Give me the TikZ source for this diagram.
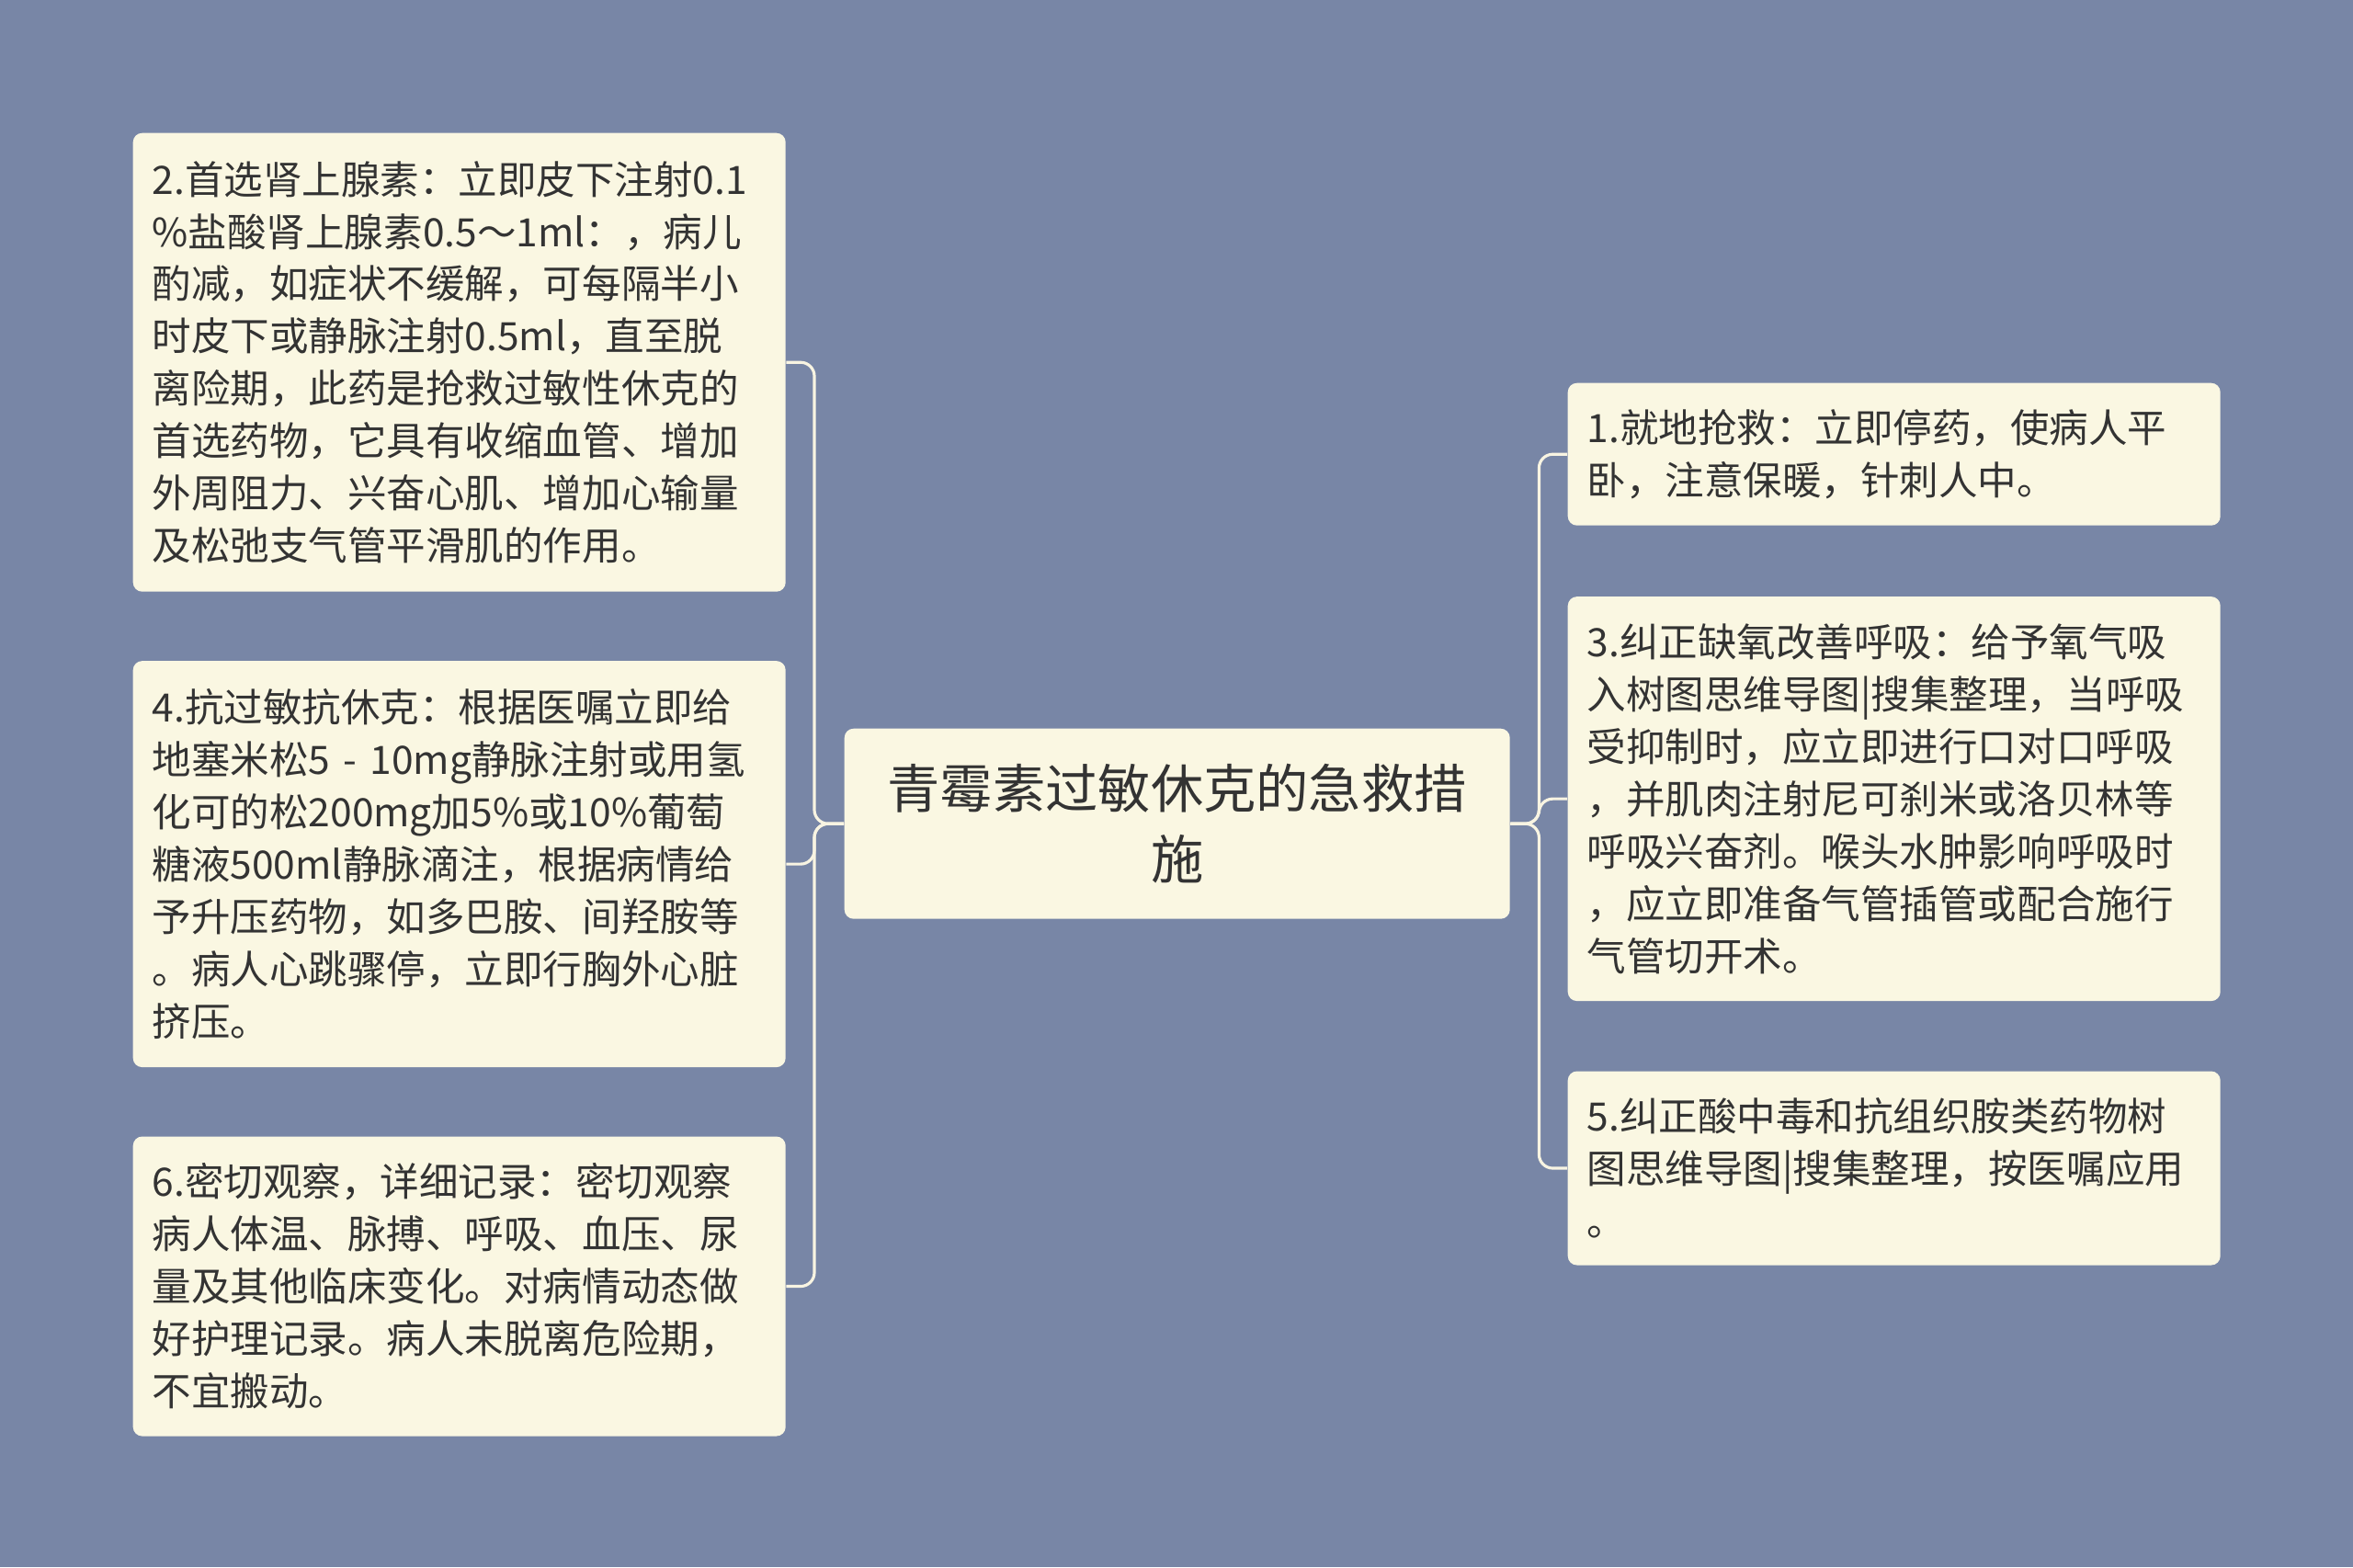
\documentclass[tikz,border=0pt]{standalone}
\usepackage{fontspec}
\setmainfont{Noto Sans CJK SC}
\usepackage{xcolor}
\usetikzlibrary{positioning}
\definecolor{bgcolor}{RGB}{120, 134, 166}
\definecolor{boxcolor}{RGB}{250, 247, 226}
\definecolor{linkcolor}{RGB}{248, 244, 226}
\definecolor{txtcolor}{RGB}{51, 51, 51}
\tikzstyle{rootbox} = [
	fill=boxcolor,
	text=txtcolor,
	rounded corners=0.1cm,
	align=center,
	text width=6.72cm,
	inner xsep=0.26cm,
	inner ysep=0cm,
	minimum height=2.07cm,
	font=\fontsize{16.3pt}{21.9pt}\selectfont
]
\tikzstyle{stepbox} = [
	fill=boxcolor,
	text=txtcolor,
	rounded corners=0.1cm,
	align=left,
	text width=6.68cm,
	inner xsep=0.21cm,
	inner ysep=0cm,
	font=\fontsize{12.1pt}{16.2pt}\selectfont
]
\tikzstyle{link} = [
	draw=linkcolor,
	line width=0.9pt,
	rounded corners=0.15cm
]

\begin{document}
\begin{tikzpicture}[node distance=0.74cm and 0cm]

	\fill[bgcolor] (0,0) rectangle (25.6,-17.05);
	\useasboundingbox (0,0) rectangle (25.6,-17.05);

	%
	% Root
	\node[rootbox, anchor=north west] at (9.18,-7.92) (Root) {青霉素过敏休克的急救措\\施};

	%
	% Left steps
	\node[stepbox, anchor=north west, minimum height=4.99cm] at (1.44,-1.44) (S2) {2.首选肾上腺素：立即皮下注射0.1\\\%盐酸肾上腺素0.5～1ml：，病儿\\酌减，如症状不缓解，可每隔半小\\时皮下或静脉注射0.5ml，直至脱\\离险期，此药是抢救过敏性休克的\\首选药物，它具有收缩血管、增加\\外周阻力、兴奋心肌、增加心输量\\及松弛支气管平滑肌的作用。};
	\node[stepbox, below=of S2, minimum height=4.42cm] (S4) {4.抗过敏抗休克：根据医嘱立即给\\地塞米松5~-~10mg静脉注射或用氢\\化可的松200mg加5\%或10\%葡萄\\糖液500ml静脉滴注，根据病情给\\予升压药物，如多巴胺、间羟胺等\\。病人心跳骤停，立即行胸外心脏\\挤压。};
	\node[stepbox, below=of S4, minimum height=3.26cm] (S6) {6.密切观察，详细记录：密切观察\\病人体温、脉搏、呼吸、血压、尿\\量及其他临床变化。对病情动态做\\好护理记录。病人未脱离危险期，\\不宜搬动。};

	%
	% Right steps
	\node[stepbox, anchor=north west, minimum height=1.55cm] at (17.05,-4.16) (S1) {1.就地抢救：立即停药，使病人平\\卧，注意保暖，针刺人中。};
	\node[stepbox, below=0.76cm of S1, minimum height=4.40cm] (S3) {3.纠正缺氧改善呼吸：给予氧气吸\\入树图思维导图|搜集整理，当呼吸\\受抑制时，应立即进行口对口呼吸\\，并肌肉注射尼可刹米或洛贝林等\\呼吸兴奋剂。喉头水肿影响呼吸时\\，应立即准备气管插管或配合施行\\气管切开术。};
	\node[stepbox, below=0.75cm of S3, minimum height=2.11cm] (S5) {5.纠正酸中毒和抗组织胺类药物树\\图思维导图|搜集整理，按医嘱应用\\。};

	%
	% Links
	\draw[link] (Root.west) -- ++(-0.32,0) |- (S2.east);
	\draw[link] (Root.west) -- ++(-0.32,0) |- (S4.east);
	\draw[link] (Root.west) -- ++(-0.32,0) |- (S6.east);

	\draw[link] (Root.east) -- ++(0.31,0) |- (S1.west);
	\draw[link] (Root.east) -- ++(0.31,0) |- (S3.west);
	\draw[link] (Root.east) -- ++(0.31,0) |- (S5.west);

\end{tikzpicture}
\end{document}
